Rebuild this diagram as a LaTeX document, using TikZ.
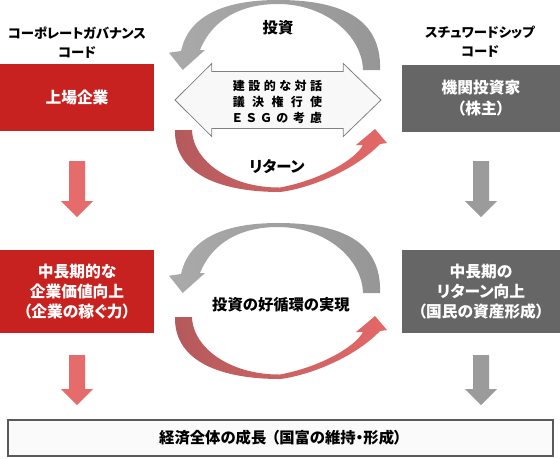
\documentclass[tikz,border=0pt]{standalone}
\usepackage{fontspec}
\setmainfont{Noto Sans CJK JP}[RawFeature=+palt]
\usetikzlibrary{calc}
\definecolor{boxred}{RGB}{200,34,32}
\definecolor{boxgrey}{RGB}{102,102,102}
\definecolor{arrred}{RGB}{229,108,107}
\definecolor{arrgrey}{RGB}{155,155,155}
\definecolor{credA}{RGB}{180,90,92}
\definecolor{credB}{RGB}{228,104,104}
\definecolor{cgreyA}{RGB}{170,170,170}
\definecolor{cgreyB}{RGB}{150,150,150}
\definecolor{dblfill}{RGB}{248,248,248}
\definecolor{dbledge}{RGB}{128,128,128}
\definecolor{botfill}{RGB}{250,250,250}
\definecolor{botedge}{RGB}{89,89,89}
\tikzset{
  box/.style={inner sep=0pt, outer sep=0pt, text=white, align=center,
    font=\bfseries\fontsize{11.8}{15.2}\selectfont},
  ttl/.style={align=center, inner sep=0pt, font=\bfseries\fontsize{10}{14.5}\selectfont},
  lab/.style={inner sep=0pt, font=\bfseries\fontsize{11.5}{14}\selectfont},
  redarrow/.style={fill=arrred},
  greyarrow/.style={fill=arrgrey},
  greyarc/.pic={
    \shade[left color=cgreyA, right color=cgreyB]
      (380,70) .. controls (382,15) and (335,0) .. (278,0)
      .. controls (235,0) and (190,10) .. (181,51)
      -- (169,52.7) -- (182.7,70) -- (205,50) -- (200,50)
      .. controls (212,20) and (240,4) .. (278,4)
      .. controls (325,4) and (362,35) .. (363,70) -- cycle;
  },
  redarc/.pic={
    \shade[left color=credA, right color=credB]
      (175,130) .. controls (174,175) and (222,192) .. (280,192)
      .. controls (300,190) and (350,175) .. (380,144)
      -- (387,143) -- (375,129) -- (356,145) -- (363,145)
      .. controls (355,160) and (320,180) .. (280,187.5)
      .. controls (232,188) and (193,162) .. (192,130) -- cycle;
  }
}
\begin{document}
\begin{tikzpicture}[x=0.75pt,y=-0.75pt]
\useasboundingbox (0,0) rectangle (560,458);

% titles
\node[ttl] (t1) at (77,42.5) {コーポレートガバナンス\\コード};
\node[ttl] (t2) at (480,41.5) {スチュワードシップ\\コード};

% boxes
\node[box, fill=boxred, minimum width=115.5pt, minimum height=50.25pt] (b1) at (77,97.5) {上場企業};
\node[box, fill=boxgrey, minimum width=118.5pt, minimum height=50.25pt] (b2) at (481,98) {機関投資家\\（株主）};
\node[box, fill=boxred, minimum width=115.5pt, minimum height=62.25pt] (b3) at (77,291.5) {中長期的な\\企業価値向上\\（企業の稼ぐ力）};
\node[box, fill=boxgrey, minimum width=118.5pt, minimum height=62.25pt] (b4) at (481,291.5) {中長期の\\リターン向上\\（国民の資産形成）};
\node[draw=botedge, line width=0.9pt, fill=botfill, minimum width=408.75pt, minimum height=27pt,
      inner sep=0pt, font=\bfseries\fontsize{11.5}{14}\selectfont] (b5) at (280.5,438)
      {経済全体の成長\hspace{4pt}（国富の維持・形成）};

% down block arrows
\fill[redarrow] (69,161) -- (85,161) -- (85,201) -- (93,201) -- (77,217) -- (61,201) -- (69,201) -- cycle;
\fill[greyarrow] (473,161) -- (489,161) -- (489,201) -- (497,201) -- (481,217) -- (465,201) -- (473,201) -- cycle;
\fill[redarrow] (69,355) -- (85,355) -- (85,389) -- (93,389) -- (77,405) -- (61,389) -- (69,389) -- cycle;
\fill[greyarrow] (473,355) -- (489,355) -- (489,389) -- (497,389) -- (481,405) -- (465,389) -- (473,389) -- cycle;

% top cycle
\pic at (0,0) {greyarc};
\pic at (0,0) {redarc};
\filldraw[fill=dblfill, draw=dbledge, line width=0.6pt]
  (175,100) -- (211.7,63.5) -- (211.7,71.5) -- (343.3,71.5) -- (343.3,63.5) -- (381,100)
  -- (343.3,136.5) -- (343.3,128.5) -- (211.7,128.5) -- (211.7,136.5) -- cycle;
\node[align=center, inner sep=0pt, font=\bfseries\fontsize{9}{12}\selectfont] (dt) at (277.5,102)
  {\makebox[67pt]{建\hfill 設\hfill 的\hfill な\hfill 対\hfill 話}\\
   \makebox[67pt]{議\hfill 決\hfill 権\hfill 行\hfill 使}\\
   \makebox[67pt]{Ｅ\hfill Ｓ\hfill Ｇ\hfill の\hfill 考\hfill 慮}};
\node[lab] (l1) at (278,28) {投資};
\node[lab] (l2) at (277,167) {リターン};

% middle cycle
\pic at (0,223) {greyarc};
\pic at (0,187) {redarc};
\node[lab] (l3) at (281,305) {投資の好循環の実現};
\end{tikzpicture}
\end{document}
